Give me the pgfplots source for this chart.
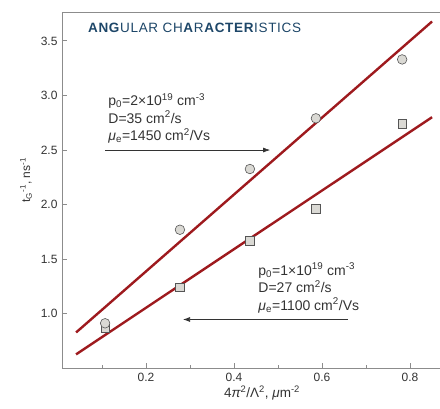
\documentclass[border=0pt]{standalone}
\usepackage{fontspec}
\setmainfont{Liberation Sans}
\usepackage{pgfplots}
\pgfplotsset{compat=1.18}
\usetikzlibrary{arrows.meta}
\definecolor{fitred}{HTML}{9E1A1E}
\definecolor{titleblue}{HTML}{1D4668}
\definecolor{mkfill}{HTML}{DAD9D4}
\definecolor{mkdraw}{HTML}{555555}
\definecolor{axgray}{HTML}{8C8C8C}
\definecolor{txt}{HTML}{333333}
\newfontfamily\titlefont[LetterSpace=5]{Liberation Sans}
\begin{document}
\begin{tikzpicture}
\begin{axis}[
  name=ax, at={(0,0)}, anchor=south west,
  scale only axis, width=378pt, height=356pt,
  xmin=0.009, xmax=0.868, ymin=0.5, ymax=3.765,
  axis x line*=bottom, axis y line*=left,
  axis line style={axgray, line width=0.9pt},
  tick align=inside,
  tick style={axgray, line width=0.8pt},
  major tick length=5pt, minor tick length=3.5pt,
  xtick={0.2,0.4,0.6,0.8}, minor xtick={0.1,0.3,0.5,0.7},
  ytick={1.0,1.5,2.0,2.5,3.0,3.5},
  /pgf/number format/assume math mode=true,
  /pgf/number format/.cd, fixed, fixed zerofill, precision=1, /pgfplots/.cd,
  ticklabel style={font=\fontsize{12}{14}\selectfont, text=txt},
  yticklabel style={xshift=-1pt},
  xticklabel style={yshift=-2pt},
  xlabel={4{\itshape π}\textsuperscript{2}/Λ\textsuperscript{2}, {\itshape μ}m\textsuperscript{-2}},
  ylabel={t\textsubscript{G}\textsuperscript{-1}, ns\textsuperscript{-1}},
  xlabel style={font=\fontsize{13.5}{15}\selectfont, text=txt, at={(ticklabel cs:0.529)}, yshift=3pt},
  ylabel style={font=\fontsize{12}{14}\selectfont, text=txt, at={(ticklabel cs:0.528)}, yshift=2pt},
  clip=false,
]
\draw[axgray, line width=0.9pt] (rel axis cs:0,1) -- (rel axis cs:1,1);
% fit lines
\addplot[fitred, line width=2.4pt, no marks] coordinates {(0.041,0.826) (0.850,3.678)};
\addplot[fitred, line width=2.4pt, no marks] coordinates {(0.041,0.625) (0.850,2.800)};
% squares
\addplot[only marks, mark=square*, mark size=4.3pt, mark options={fill=mkfill, draw=mkdraw, line width=0.6pt}]
  coordinates {(0.107,0.87) (0.277,1.24) (0.436,1.667) (0.586,1.96) (0.782,2.74)};
% circles
\addplot[only marks, mark=*, mark size=4.8pt, mark options={fill=mkfill, draw=mkdraw, line width=0.6pt}]
  coordinates {(0.107,0.91) (0.277,1.768) (0.436,2.325) (0.586,2.79) (0.782,3.33)};
% arrows
\addplot[black!80, line width=0.7pt, -{Latex[length=7pt,width=5pt]}] coordinates {(0.107,2.499) (0.482,2.499)};
\addplot[black!80, line width=0.7pt, -{Latex[length=7pt,width=5pt]}] coordinates {(0.659,0.945) (0.284,0.945)};
% texts
\node[anchor=west, text=titleblue, font=\titlefont\fontsize{13.5}{15}\selectfont, inner sep=0pt] at (axis cs:0.068,3.62)
  {\textbf{ANG}ULAR CH\textbf{A}R\textbf{ACTER}ISTICS};
\node[anchor=north west, align=left, text=txt, font=\fontsize{14}{17.5}\selectfont, inner sep=0pt] at (axis cs:0.114,3.02)
  {p\textsubscript{0}=2×10\textsuperscript{19} cm\textsuperscript{-3}\\D=35 cm\textsuperscript{2}/s\\{\itshape μ}\textsubscript{e}=1450 cm\textsuperscript{2}/Vs};
\node[anchor=north west, align=left, text=txt, font=\fontsize{14}{17.5}\selectfont, inner sep=0pt] at (axis cs:0.455,1.465)
  {p\textsubscript{0}=1×10\textsuperscript{19} cm\textsuperscript{-3}\\D=27 cm\textsuperscript{2}/s\\{\itshape μ}\textsubscript{e}=1100 cm\textsuperscript{2}/Vs};
\end{axis}
\pgfresetboundingbox
\path[use as bounding box] (-62pt,-40pt) rectangle (378pt,368pt);
\end{tikzpicture}
\end{document}
